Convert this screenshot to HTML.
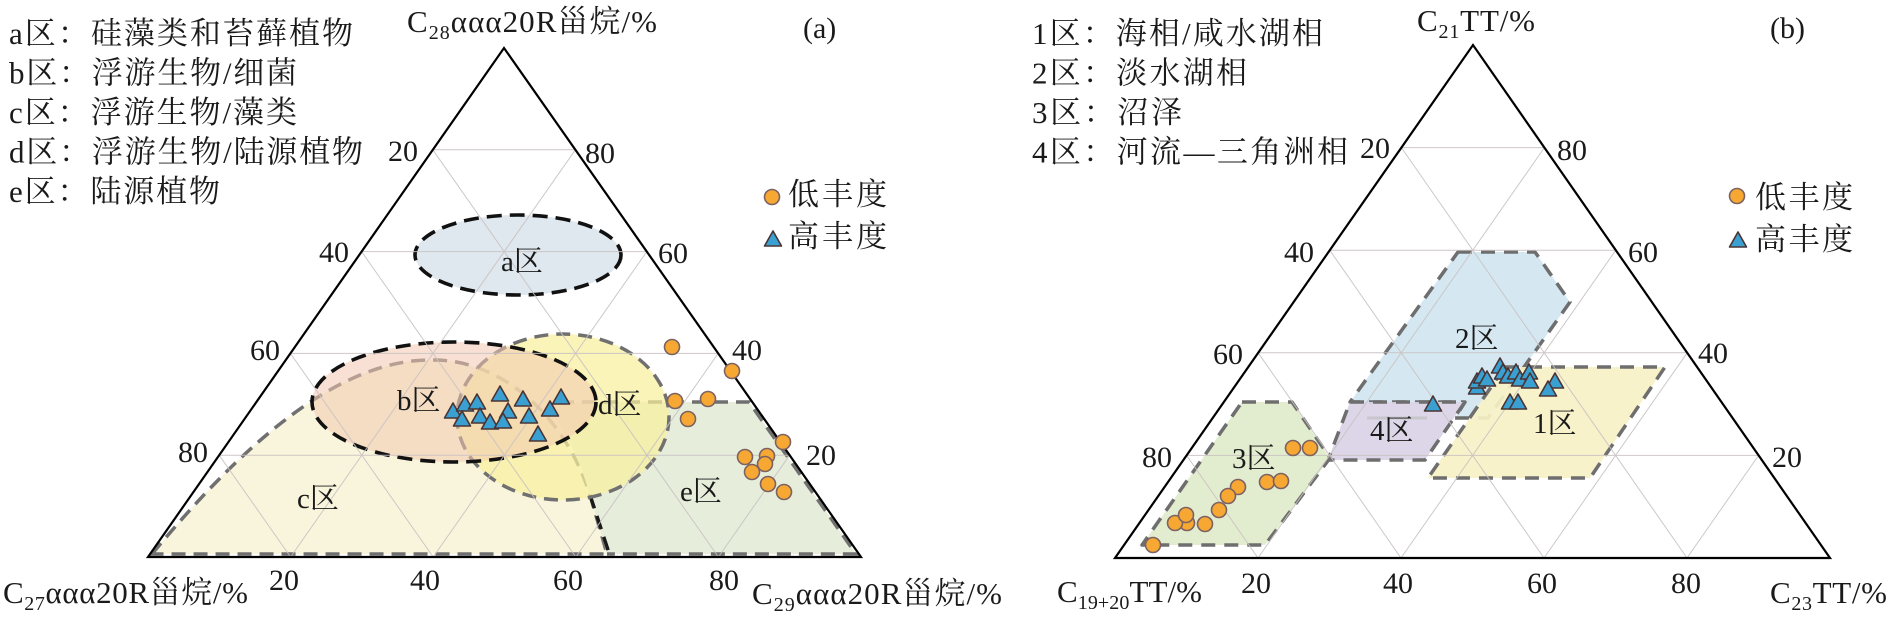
<!DOCTYPE html>
<html><head><meta charset="utf-8"><style>
html,body{margin:0;padding:0;background:#fff;}
svg{display:block;}
text{font-family:"Liberation Serif","Noto Serif CJK SC",serif;fill:#1a1a1a;}
</style></head><body>
<svg width="1890" height="617" viewBox="0 0 1890 617" xmlns="http://www.w3.org/2000/svg">
<defs>
<path id="tri" d="M0,-9 L8.5,6 L-8.5,6Z" fill="#3aa0d2" stroke="#4a3434" stroke-width="1.6" stroke-linejoin="round"/>
<circle id="cir" r="7.5" fill="#f6a833" stroke="#7d6262" stroke-width="1.6"/>
</defs>
<rect width="1890" height="617" fill="#fff"/>

<!-- ===== Chart (a) ===== -->
<!-- region c -->
<path d="M152,554 C230,460 330,360 430,360 C500,358 565,415 590,495 L607,554 Z" fill="#f9f5dc" stroke="#707070" stroke-width="3.5" stroke-dasharray="14 8"/>
<!-- region e -->
<path d="M545,402 L749,402 L856,554 L607,554 L590,495 C580,460 565,430 545,402 Z" fill="#e6eddb" stroke="none"/>
<path d="M560,402 L749,402 L856,554 L607,554" fill="none" stroke="#707070" stroke-width="3.5" stroke-dasharray="14 8"/>
<path d="M590,495 L610,556" fill="none" stroke="#1a1a1a" stroke-width="3.5" stroke-dasharray="14 8"/>
<!-- region d -->
<ellipse cx="563" cy="417" rx="106" ry="83" fill="#f8f09e" fill-opacity="0.72" stroke="#707070" stroke-width="3.5" stroke-dasharray="14 8"/>
<!-- region b -->
<ellipse cx="454" cy="402" rx="142" ry="60" fill="#f3c9b0" fill-opacity="0.55" stroke="#111" stroke-width="3.6" stroke-dasharray="15 8"/>
<!-- region a -->
<ellipse cx="518" cy="255" rx="103" ry="40" fill="#dfe8ee" stroke="#111" stroke-width="3.6" stroke-dasharray="15 8"/>

<!-- grid a -->
<g stroke="#c9c2c2" stroke-width="1" fill="none" opacity="0.9">
<line x1="219.2" y1="455.2" x2="789.6" y2="455.2"/>
<line x1="290.4" y1="353.4" x2="718.2" y2="353.4"/>
<line x1="361.6" y1="251.6" x2="646.8" y2="251.6"/>
<line x1="432.8" y1="149.8" x2="575.4" y2="149.8"/>
<line x1="290.6" y1="557" x2="219.2" y2="455.2"/>
<line x1="433.2" y1="557" x2="290.4" y2="353.4"/>
<line x1="575.8" y1="557" x2="361.6" y2="251.6"/>
<line x1="718.4" y1="557" x2="432.8" y2="149.8"/>
<line x1="290.6" y1="557" x2="575.4" y2="149.8"/>
<line x1="433.2" y1="557" x2="646.8" y2="251.6"/>
<line x1="575.8" y1="557" x2="718.2" y2="353.4"/>
<line x1="718.4" y1="557" x2="789.6" y2="455.2"/>
</g>
<polygon points="148,557 504,48 861,557" fill="none" stroke="#000" stroke-width="2.2" stroke-linejoin="miter"/>

<!-- region labels a -->
<g font-size="29">
<text x="501" y="271">a区</text>
<text x="397" y="410">b区</text>
<text x="297" y="508">c区</text>
<text x="598" y="414">d区</text>
<text x="680" y="501">e区</text>
</g>

<!-- points a -->
<g>
<use href="#tri" x="453" y="412"/><use href="#tri" x="465" y="405"/><use href="#tri" x="477" y="403"/>
<use href="#tri" x="462" y="420"/><use href="#tri" x="480" y="417"/><use href="#tri" x="490" y="423"/>
<use href="#tri" x="500" y="395"/><use href="#tri" x="508" y="412"/><use href="#tri" x="503" y="422"/>
<use href="#tri" x="523" y="400"/><use href="#tri" x="529" y="417"/><use href="#tri" x="538" y="435"/>
<use href="#tri" x="550" y="410"/><use href="#tri" x="561" y="398"/>
<use href="#cir" x="672" y="347"/><use href="#cir" x="732" y="371"/><use href="#cir" x="675" y="401"/>
<use href="#cir" x="708" y="399"/><use href="#cir" x="688" y="419"/><use href="#cir" x="783" y="442"/>
<use href="#cir" x="745" y="457"/><use href="#cir" x="767" y="456"/><use href="#cir" x="765" y="464"/>
<use href="#cir" x="752" y="472"/><use href="#cir" x="768" y="484"/><use href="#cir" x="784" y="492"/>
</g>

<!-- tick labels a -->
<g font-size="30">
<text x="418" y="161" text-anchor="end">20</text>
<text x="349" y="262" text-anchor="end">40</text>
<text x="280" y="360" text-anchor="end">60</text>
<text x="208" y="462" text-anchor="end">80</text>
<text x="585" y="163">80</text>
<text x="658" y="263">60</text>
<text x="732" y="360">40</text>
<text x="806" y="465">20</text>
<text x="284" y="590" text-anchor="middle">20</text>
<text x="425" y="590" text-anchor="middle">40</text>
<text x="568" y="590" text-anchor="middle">60</text>
<text x="724" y="590" text-anchor="middle">80</text>
</g>

<!-- axis titles a -->
<text x="407" y="32" font-size="31" textLength="250">C<tspan font-size="20" dy="7">28</tspan><tspan dy="-7">ααα20R甾烷/%</tspan></text>
<text x="3" y="603" font-size="31" textLength="245">C<tspan font-size="20" dy="7">27</tspan><tspan dy="-7">ααα20R甾烷/%</tspan></text>
<text x="752" y="604" font-size="31" textLength="250">C<tspan font-size="20" dy="7">29</tspan><tspan dy="-7">ααα20R甾烷/%</tspan></text>
<text x="803" y="38" font-size="30">(a)</text>

<!-- legend text a -->
<g font-size="31">
<text x="9" y="44" textLength="344">a区：硅藻类和苔藓植物</text>
<text x="9" y="83.5" textLength="288">b区：浮游生物/细菌</text>
<text x="9" y="123" textLength="288">c区：浮游生物/藻类</text>
<text x="9" y="162.5" textLength="354">d区：浮游生物/陆源植物</text>
<text x="9" y="202" textLength="211">e区：陆源植物</text>
</g>
<use href="#cir" x="772" y="197"/>
<text x="788" y="205" font-size="31" textLength="99">低丰度</text>
<use href="#tri" x="773" y="240"/>
<text x="788" y="247" font-size="31" textLength="99">高丰度</text>

<!-- ===== Chart (b) ===== -->
<g stroke="#6e6e6e" stroke-width="3.5" stroke-dasharray="14 9" stroke-linejoin="round">
<polygon points="1458,252 1535,252 1570,302 1488,418 1455,418 1465,402 1350,402" fill="#d5e8f2"/>
<polygon points="1505,367 1665,367 1590,478 1428,478" fill="#f7f1c6" fill-opacity="0.92"/>
<polygon points="1350,402 1465,402 1425,460 1328,460" fill="#d9d2e6" fill-opacity="0.92"/>
<polygon points="1242,402 1292,402 1330,458 1265,545 1142,545" fill="#e2ecce"/>
</g>
<line x1="1367" y1="418" x2="1427" y2="418" stroke="#bbb" stroke-width="3" opacity="0.6"/>

<g stroke="#c9c2c2" stroke-width="1" fill="none" opacity="0.9">
<line x1="1186.6" y1="455.4" x2="1758.6" y2="455.4"/>
<line x1="1258.2" y1="352.8" x2="1687.2" y2="352.8"/>
<line x1="1329.8" y1="250.2" x2="1615.8" y2="250.2"/>
<line x1="1401.4" y1="147.6" x2="1544.4" y2="147.6"/>
<line x1="1258" y1="558" x2="1186.6" y2="455.4"/>
<line x1="1401" y1="558" x2="1258.2" y2="352.8"/>
<line x1="1544" y1="558" x2="1329.8" y2="250.2"/>
<line x1="1687" y1="558" x2="1401.4" y2="147.6"/>
<line x1="1258" y1="558" x2="1544.4" y2="147.6"/>
<line x1="1401" y1="558" x2="1615.8" y2="250.2"/>
<line x1="1544" y1="558" x2="1687.2" y2="352.8"/>
<line x1="1687" y1="558" x2="1758.6" y2="455.4"/>
</g>
<polygon points="1115,558 1473,45 1830,558" fill="none" stroke="#000" stroke-width="2.2"/>

<g font-size="29">
<text x="1533" y="433">1区</text>
<text x="1455" y="348">2区</text>
<text x="1232" y="468">3区</text>
<text x="1370" y="440">4区</text>
</g>

<g>
<use href="#tri" x="1433" y="405"/><use href="#tri" x="1477" y="388"/><use href="#tri" x="1477" y="382"/>
<use href="#tri" x="1482" y="377"/><use href="#tri" x="1487" y="380"/><use href="#tri" x="1500" y="367"/>
<use href="#tri" x="1503" y="373"/><use href="#tri" x="1508" y="377"/><use href="#tri" x="1516" y="373"/>
<use href="#tri" x="1520" y="380"/><use href="#tri" x="1529" y="373"/><use href="#tri" x="1530" y="382"/>
<use href="#tri" x="1555" y="382"/><use href="#tri" x="1548" y="390"/><use href="#tri" x="1510" y="403"/>
<use href="#tri" x="1518" y="403"/>
<use href="#cir" x="1293" y="448"/><use href="#cir" x="1310" y="448"/><use href="#cir" x="1267" y="482"/>
<use href="#cir" x="1281" y="481"/><use href="#cir" x="1238" y="487"/><use href="#cir" x="1228" y="496"/>
<use href="#cir" x="1219" y="510"/><use href="#cir" x="1205" y="524"/><use href="#cir" x="1187" y="523"/>
<use href="#cir" x="1175" y="523"/><use href="#cir" x="1186" y="515"/><use href="#cir" x="1153" y="545"/>
</g>

<g font-size="30">
<text x="1390" y="158" text-anchor="end">20</text>
<text x="1314" y="262" text-anchor="end">40</text>
<text x="1243" y="364" text-anchor="end">60</text>
<text x="1172" y="467" text-anchor="end">80</text>
<text x="1557" y="160">80</text>
<text x="1628" y="262">60</text>
<text x="1698" y="363">40</text>
<text x="1772" y="467">20</text>
<text x="1256" y="593" text-anchor="middle">20</text>
<text x="1398" y="593" text-anchor="middle">40</text>
<text x="1542" y="593" text-anchor="middle">60</text>
<text x="1686" y="593" text-anchor="middle">80</text>
</g>

<text x="1417" y="31" font-size="31" textLength="118">C<tspan font-size="20" dy="7">21</tspan><tspan dy="-7">TT/%</tspan></text>
<text x="1057" y="602" font-size="31" textLength="145">C<tspan font-size="20" dy="7">19+20</tspan><tspan dy="-7">TT/%</tspan></text>
<text x="1770" y="603" font-size="31" textLength="117">C<tspan font-size="20" dy="7">23</tspan><tspan dy="-7">TT/%</tspan></text>
<text x="1770" y="38" font-size="30">(b)</text>

<g font-size="31">
<text x="1032" y="44" textLength="291">1区：海相/咸水湖相</text>
<text x="1032" y="83.5" textLength="215">2区：淡水湖相</text>
<text x="1032" y="123" textLength="150">3区：沼泽</text>
<text x="1032" y="162.5" textLength="316">4区：河流—三角洲相</text>
</g>
<use href="#cir" x="1737" y="196"/>
<text x="1755" y="208" font-size="31" textLength="98">低丰度</text>
<use href="#tri" x="1738" y="241"/>
<text x="1755" y="250" font-size="31" textLength="98">高丰度</text>
</svg>
</body></html>
